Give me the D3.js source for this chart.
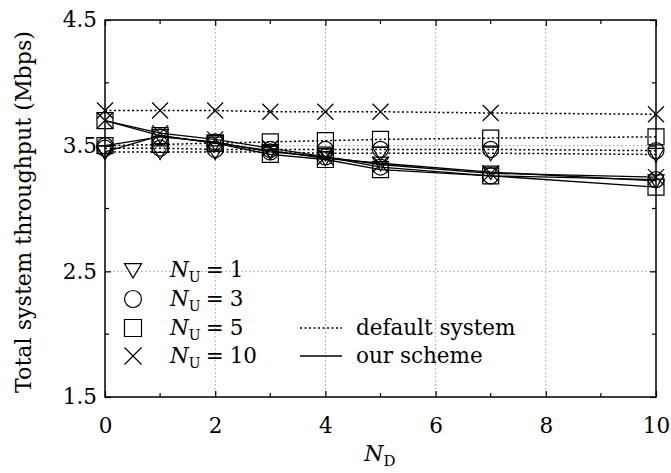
<!DOCTYPE html>
<html><head><meta charset="utf-8">
<script src="https://cdn.jsdelivr.net/npm/d3@7"></script>
<style>body{margin:0;background:#fff}svg{display:block}text{font-family:"DejaVu Serif","Liberation Serif",serif;fill:#000}</style>
</head><body><svg id="c" width="671" height="473"></svg>
<script>
const xValues = [0, 1, 2, 3, 4, 5, 7, 10];
const seriesNames = ["1", "3", "5", "10"];
const markerTypes = ["triangle", "circle", "square", "cross"];
const defaultNU1 = [3.45, 3.45, 3.45, 3.45, 3.44, 3.44, 3.44, 3.43];
const defaultNU3 = [3.48, 3.48, 3.47, 3.47, 3.47, 3.47, 3.47, 3.46];
const defaultNU5 = [3.50, 3.51, 3.52, 3.53, 3.54, 3.55, 3.56, 3.57];
const defaultNU10 = [3.78, 3.78, 3.78, 3.77, 3.77, 3.77, 3.76, 3.75];
const oursNU1 = [3.45, 3.58, 3.52, 3.46, 3.40, 3.36, 3.29, 3.22];
const oursNU3 = [3.50, 3.57, 3.53, 3.45, 3.41, 3.33, 3.26, 3.23];
const oursNU5 = [3.70, 3.58, 3.52, 3.43, 3.39, 3.31, 3.26, 3.17];
const oursNU10 = [3.70, 3.60, 3.55, 3.48, 3.41, 3.35, 3.28, 3.25];
const xTicks = [0, 2, 4, 6, 8, 10];
const xMinor = [1, 3, 5, 7, 9];
const yTicks = [1.5, 2.5, 3.5, 4.5];
const yMinor = [2.0, 3.0, 4.0];

const defaults = [defaultNU1, defaultNU3, defaultNU5, defaultNU10];
const ours = [oursNU1, oursNU3, oursNU5, oursNU10];

const svg = d3.select("#c");
const L = 105, R = 656, T = 20, B = 397;
const x = d3.scaleLinear().domain([0, 10]).range([L, R]);
const y = d3.scaleLinear().domain([1.5, 4.5]).range([B, T]);
const fs = 21.5;
const FONT = '"DejaVu Serif",serif';

// grid
const g = svg.append("g");
xTicks.filter(v => v > 0 && v < 10).forEach(v => g.append("line")
  .attr("x1", x(v)).attr("x2", x(v)).attr("y1", T).attr("y2", B)
  .attr("stroke", "#999").attr("stroke-width", 1).attr("stroke-dasharray", "1.5,2.5"));
yTicks.filter(v => v > 1.5 && v < 4.5).forEach(v => g.append("line")
  .attr("x1", L).attr("x2", R).attr("y1", y(v)).attr("y2", y(v))
  .attr("stroke", "#999").attr("stroke-width", 1).attr("stroke-dasharray", "1.5,2.5"));

// axes
const xAxis = d3.axisBottom(x).tickValues(xTicks).tickSize(-6).tickPadding(21).tickFormat(d3.format("d"));
const yAxis = d3.axisLeft(y).tickValues(yTicks).tickSize(-6).tickPadding(8).tickFormat(d3.format(".1f"));
const ax = svg.append("g").attr("transform", `translate(0,${B})`).call(xAxis);
const ay = svg.append("g").attr("transform", `translate(${L},0)`).call(yAxis);
[ax, ay].forEach(a => {
  a.select(".domain").remove();
  a.selectAll("line").attr("stroke", "#000").attr("stroke-width", 1.2);
  a.selectAll("text").style("font-size", fs + "px").style("font-family", FONT);
});
// top/right mirrored ticks
const at = svg.append("g").attr("transform", `translate(0,${T})`).call(d3.axisTop(x).tickValues(xTicks).tickSize(-6).tickFormat(""));
const ar = svg.append("g").attr("transform", `translate(${R},0)`).call(d3.axisRight(y).tickValues(yTicks).tickSize(-6).tickFormat(""));
[at, ar].forEach(a => { a.select(".domain").remove(); a.selectAll("line").attr("stroke", "#000").attr("stroke-width", 1.2); });
// minor ticks
xMinor.forEach(v => {
  svg.append("line").attr("x1", x(v)).attr("x2", x(v)).attr("y1", B).attr("y2", B - 4).attr("stroke", "#000").attr("stroke-width", 1.2);
  svg.append("line").attr("x1", x(v)).attr("x2", x(v)).attr("y1", T).attr("y2", T + 4).attr("stroke", "#000").attr("stroke-width", 1.2);
});
yMinor.forEach(v => {
  svg.append("line").attr("x1", L).attr("x2", L + 4).attr("y1", y(v)).attr("y2", y(v)).attr("stroke", "#000").attr("stroke-width", 1.2);
  svg.append("line").attr("x1", R).attr("x2", R - 4).attr("y1", y(v)).attr("y2", y(v)).attr("stroke", "#000").attr("stroke-width", 1.2);
});

// marker paths
function marker(type, s) {
  const h = s / 2;
  if (type === "triangle") return `M${-h},${-h * 0.75}L${h},${-h * 0.75}L0,${h * 0.95}Z`;
  if (type === "square") return `M${-h},${-h}L${h},${-h}L${h},${h}L${-h},${h}Z`;
  if (type === "cross") return `M${-h},${-h}L${h},${h}M${-h},${h}L${h},${-h}`;
  if (type === "circle") return d3.arc()({innerRadius: 0, outerRadius: h, startAngle: 0, endAngle: 2 * Math.PI});
}
const line = d3.line().x((d, i) => x(xValues[i])).y(d => y(d));
const plot = svg.append("g");
defaults.forEach((s, k) => {
  plot.append("path").attr("d", line(s)).attr("fill", "none").attr("stroke", "#000")
    .attr("stroke-width", 1.5).attr("stroke-dasharray", "2,2.5");
});
ours.forEach((s, k) => {
  plot.append("path").attr("d", line(s)).attr("fill", "none").attr("stroke", "#000").attr("stroke-width", 1.3);
});
const ms = 16;
[defaults, ours].forEach(set => set.forEach((s, k) => {
  plot.selectAll(null).data(s).enter().append("path")
    .attr("transform", (d, i) => `translate(${x(xValues[i])},${y(d)})`)
    .attr("d", marker(markerTypes[k], ms)).attr("fill", "none").attr("stroke", "#000").attr("stroke-width", 1.2);
}));

// frame
svg.append("rect").attr("x", L).attr("y", T).attr("width", R - L).attr("height", B - T)
  .attr("fill", "none").attr("stroke", "#000").attr("stroke-width", 1.5);

// legend
const legY = [270, 299, 328, 356];
seriesNames.forEach((n, k) => {
  svg.append("path").attr("transform", `translate(133,${legY[k]})`).attr("d", marker(markerTypes[k], 17))
    .attr("fill", "none").attr("stroke", "#000").attr("stroke-width", 1.2);
  const t = svg.append("text").attr("x", 170).attr("y", legY[k] + 7).style("font-size", fs + "px")
    .attr("xml:space", "preserve");
  t.append("tspan").style("font-style", "italic").text("N");
  t.append("tspan").attr("dy", 5).style("font-size", "14px").text("U");
  t.append("tspan").attr("dy", -5).attr("dx", 5).text("=");
  t.append("tspan").attr("dx", 6).text(n);
});
svg.append("line").attr("x1", 300).attr("x2", 342).attr("y1", 328).attr("y2", 328)
  .attr("stroke", "#000").attr("stroke-width", 1.5).attr("stroke-dasharray", "2,2.5");
svg.append("text").attr("x", 356).attr("y", 335).style("font-size", fs + "px").text("default system");
svg.append("line").attr("x1", 300).attr("x2", 342).attr("y1", 356).attr("y2", 356)
  .attr("stroke", "#000").attr("stroke-width", 1.3);
svg.append("text").attr("x", 356).attr("y", 363).style("font-size", fs + "px").text("our scheme");

// axis labels
const xl = svg.append("text").attr("x", 380).attr("y", 461).attr("text-anchor", "middle").style("font-size", "22px");
xl.append("tspan").style("font-style", "italic").text("N");
xl.append("tspan").attr("dy", 5).style("font-size", "15px").text("D");
svg.append("text").attr("transform", "translate(31,212) rotate(-90)").attr("text-anchor", "middle")
  .attr("textLength", 362).attr("lengthAdjust", "spacingAndGlyphs")
  .style("font-size", "22px").text("Total system throughput (Mbps)");
</script></body></html>
